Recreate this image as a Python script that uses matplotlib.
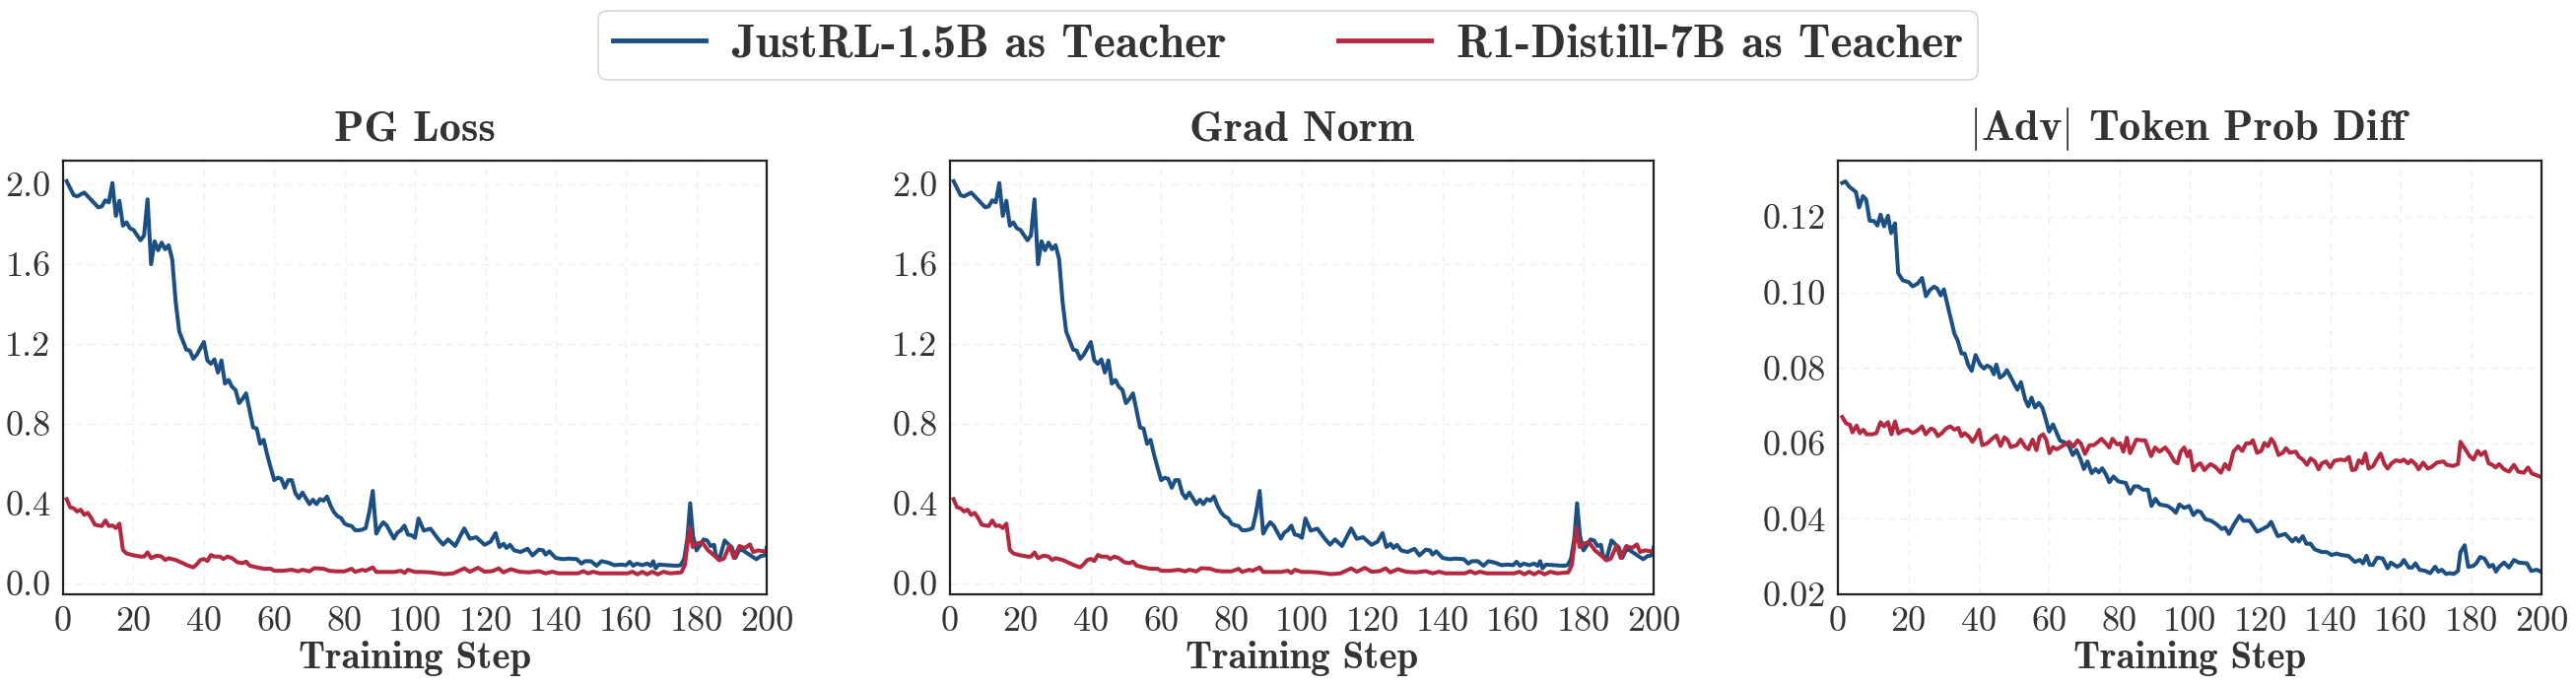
import matplotlib
matplotlib.use("Agg")
import matplotlib.pyplot as plt
from matplotlib.ticker import MultipleLocator

plt.rcParams['font.family'] = ['cmr10']
plt.rcParams['mathtext.fontset'] = 'cm'
plt.rcParams['axes.unicode_minus'] = False
plt.rcParams['axes.formatter.use_mathtext'] = False

# ---------------- data ----------------
series_labels = ["JustRL-1.5B as Teacher", "R1-Distill-7B as Teacher"]
panel_titles = ["PG Loss", "Grad Norm", r"$|$Adv$|$ Token Prob Diff"]
x_label = "Training Step"

pg_blue_steps = [1, 3, 4, 6, 10, 11, 12, 13, 14, 15, 16, 17, 18, 19, 20, 22, 23, 24, 25, 26, 27, 28, 29, 30,
                 31, 32, 33, 35, 36, 37, 38, 40, 41, 42, 43, 44, 45, 46, 47, 48, 49, 50, 51, 52, 53, 54, 55,
                 56, 57, 58, 59, 60, 61, 62, 63, 64, 65, 66, 67, 68, 69, 70, 71, 72, 73, 74, 75, 76, 77, 78,
                 79, 80, 81, 82, 83, 84, 85, 86, 87, 88, 89, 90, 91, 92, 93, 94, 95, 96, 97, 98, 99, 100,
                 101, 102.5, 104.4, 106.5, 108, 109.4, 111.4, 114, 115.6, 117.4, 119.8, 121.5, 122.9, 124,
                 125.2, 126, 127, 128.2, 130, 132, 133.4, 135.2, 136.4, 137.1, 138.2, 140, 142, 143.6, 146,
                 147.3, 148.3, 150, 151.6, 153, 154.8, 156.7, 158.5, 160, 161, 162, 163, 164.6, 166, 167,
                 167.7, 168.4, 169.3, 171.6, 174.4, 175.5, 176.5, 177.4, 178.2, 179, 180, 181, 182, 183,
                 184, 185, 185.5, 186.6, 188, 189.2, 190, 191, 192.2, 193.2, 194.6, 196, 197, 198.3, 199.3, 200]
pg_blue_vals = [2.016, 1.946, 1.94, 1.959, 1.885, 1.89, 1.92, 1.91, 2.007, 1.842, 1.918, 1.793, 1.81, 1.78,
                1.772, 1.72, 1.744, 1.925, 1.60, 1.715, 1.67, 1.708, 1.675, 1.695, 1.625, 1.41, 1.263, 1.172,
                1.167, 1.126, 1.147, 1.21, 1.118, 1.101, 1.123, 1.057, 1.118, 1.002, 1.02, 0.986, 0.97, 0.904,
                0.925, 0.953, 0.867, 0.782, 0.777, 0.70, 0.72, 0.645, 0.58, 0.518, 0.53, 0.525, 0.48, 0.518,
                0.518, 0.453, 0.427, 0.456, 0.427, 0.398, 0.42, 0.398, 0.423, 0.415, 0.436, 0.39, 0.357,
                0.337, 0.328, 0.30, 0.292, 0.288, 0.267, 0.267, 0.27, 0.278, 0.357, 0.464, 0.25, 0.283,
                0.307, 0.29, 0.258, 0.225, 0.255, 0.267, 0.29, 0.245, 0.242, 0.229, 0.326, 0.265, 0.275,
                0.225, 0.195, 0.221, 0.188, 0.276, 0.224, 0.232, 0.194, 0.21, 0.253, 0.183, 0.199, 0.178,
                0.194, 0.166, 0.158, 0.174, 0.141, 0.17, 0.166, 0.145, 0.161, 0.128, 0.122, 0.125, 0.122,
                0.10, 0.112, 0.112, 0.089, 0.112, 0.105, 0.092, 0.095, 0.092, 0.109, 0.089, 0.10, 0.092,
                0.10, 0.089, 0.112, 0.076, 0.095, 0.092, 0.089, 0.092, 0.125, 0.224, 0.402, 0.24, 0.166,
                0.191, 0.221, 0.216, 0.188, 0.194, 0.141, 0.128, 0.216, 0.194, 0.183, 0.128, 0.171, 0.166,
                0.15, 0.133, 0.122, 0.138, 0.141, 0.183]

pg_red_steps = [1, 2, 3, 4, 5, 6, 7, 8, 9, 10, 11, 12, 13, 14, 15, 16, 17, 18, 19.6, 22, 23, 24, 25, 26.6,
                28, 29, 30, 32, 34, 35.5, 37, 38, 39, 40, 41, 42, 43, 44.6, 45.5, 46.7, 48, 49.5, 51, 52, 53,
                55, 57, 59, 60, 62.5, 65, 66.8, 68, 70, 71.4, 74, 75.6, 77.5, 80, 82, 83, 85, 86, 88, 89,
                91.5, 94, 96, 97, 98, 100, 102, 104.4, 108.3, 110.9, 114, 115.6, 117.9, 119.8, 122, 123.8,
                125.1, 127.3, 129.6, 132.4, 135.2, 137.1, 139, 140.8, 143.6, 146.4, 147.8, 149.2, 150.6,
                152.5, 154.8, 157.6, 160.4, 161.8, 163.2, 164.6, 166, 167.4, 169, 170.6, 172.5, 175.7,
                176.7, 178, 178.9, 180, 181.6, 183.3, 185, 186.5, 187.8, 189.4, 190.6, 192.2, 193.8, 195.2,
                196.1, 197.5, 199.3, 200]
pg_red_vals = [0.423, 0.382, 0.377, 0.361, 0.37, 0.344, 0.354, 0.328, 0.295, 0.291, 0.288, 0.316, 0.288,
               0.291, 0.278, 0.30, 0.168, 0.151, 0.143, 0.135, 0.135, 0.156, 0.127, 0.14, 0.135, 0.118,
               0.127, 0.118, 0.102, 0.09, 0.081, 0.097, 0.118, 0.123, 0.113, 0.143, 0.135, 0.135, 0.123,
               0.135, 0.127, 0.107, 0.102, 0.11, 0.09, 0.081, 0.074, 0.074, 0.064, 0.064, 0.069, 0.061,
               0.069, 0.061, 0.077, 0.074, 0.064, 0.061, 0.061, 0.074, 0.058, 0.069, 0.064, 0.081, 0.058,
               0.058, 0.058, 0.064, 0.053, 0.069, 0.058, 0.058, 0.056, 0.047, 0.051, 0.076, 0.059, 0.079,
               0.059, 0.062, 0.076, 0.056, 0.072, 0.059, 0.056, 0.062, 0.051, 0.059, 0.051, 0.051, 0.051,
               0.062, 0.051, 0.059, 0.051, 0.051, 0.051, 0.051, 0.059, 0.046, 0.059, 0.046, 0.059, 0.046,
               0.059, 0.051, 0.056, 0.092, 0.28, 0.183, 0.20, 0.207, 0.166, 0.141, 0.116, 0.125, 0.191,
               0.128, 0.188, 0.178, 0.196, 0.158, 0.166, 0.161, 0.16]

# Grad Norm panel shows the same curves as PG Loss in the reference
gn_blue_steps, gn_blue_vals = pg_blue_steps, pg_blue_vals
gn_red_steps, gn_red_vals = pg_red_steps, pg_red_vals

adv_blue_steps = [1.2, 2.1, 3.2, 5.1, 6, 7.1, 8, 9, 10.2, 11.2, 12.1, 13.1, 14.2, 15.1, 16.2, 17.1, 18.4, 20.1,
                  21.2, 22.6, 23.9, 25, 26.1, 27.3, 28.2, 29.2, 30.1, 31.4, 33.1, 34, 35.1, 36, 37, 38, 39.1,
                  40.4, 41.5, 42.4, 43.4, 44.3, 45, 46, 47.1, 48, 49, 50.1, 51, 52, 53.2, 54.1, 55, 56, 57.1,
                  58.1, 59, 60, 61.1, 62, 63.1, 64.3, 65.7, 66.7, 67.8, 69, 69.9, 70.9, 72.1, 73.2, 74.1, 75.1,
                  76.2, 77.1, 78.3, 79.7, 81.8, 83, 84.2, 85.3, 86.7, 88.1, 89.1, 90.2, 91.4, 93.7, 95.1, 96,
                  97, 98.4, 99.8, 101, 102.1, 103.1, 104.4, 106, 107.5, 109.1, 110, 111.1, 112.4, 114.1, 115.2,
                  117, 119.1, 120.7, 122.2, 123.1, 124, 125, 127.1, 128, 129.1, 130.1, 131, 132.1, 133.1, 134.3,
                  135.5, 137.5, 138.9, 140.3, 141.7, 143.1, 145, 146.9, 148.3, 149.2, 150.2, 151.1, 152, 153.2,
                  154.8, 156.2, 157.1, 158.9, 159.9, 160.8, 162.2, 163.2, 164.1, 165.3, 166.9, 168.3, 169.7,
                  170.6, 171.6, 172.8, 173.9, 175, 176.2, 176.9, 178.1, 179.1, 180.5, 181.4, 182.5, 183.7,
                  185.1, 186.1, 187, 187.9, 189.3, 190.7, 192.1, 193.5, 195.8, 197, 198.6, 199.8]
adv_blue_vals = [0.129, 0.1294, 0.128, 0.1266, 0.1225, 0.1255, 0.1246, 0.119, 0.1189, 0.1177, 0.1206, 0.1175,
                 0.1203, 0.1157, 0.1183, 0.1051, 0.1032, 0.1027, 0.1016, 0.1023, 0.1038, 0.099, 0.1006, 0.1015,
                 0.101, 0.0992, 0.1008, 0.0956, 0.089, 0.0873, 0.0838, 0.0838, 0.0808, 0.0792, 0.0834, 0.0808,
                 0.0798, 0.0806, 0.0801, 0.0783, 0.0809, 0.0774, 0.0781, 0.0794, 0.0777, 0.0757, 0.0742, 0.0762,
                 0.0716, 0.0698, 0.0721, 0.0695, 0.0707, 0.0694, 0.0666, 0.0631, 0.065, 0.0631, 0.0607, 0.0603,
                 0.0592, 0.0569, 0.0582, 0.0556, 0.0532, 0.0552, 0.0521, 0.0532, 0.0523, 0.0534, 0.0517, 0.0497,
                 0.0512, 0.0499, 0.0495, 0.0467, 0.0486, 0.0486, 0.0477, 0.0477, 0.0434, 0.0453, 0.0438, 0.0434,
                 0.0425, 0.0416, 0.0438, 0.0429, 0.0434, 0.041, 0.0421, 0.0418, 0.0399, 0.0395, 0.0386, 0.0373,
                 0.0377, 0.036, 0.0383, 0.0408, 0.0395, 0.0395, 0.0366, 0.0373, 0.0381, 0.0392, 0.0373, 0.0354,
                 0.036, 0.0351, 0.034, 0.0349, 0.034, 0.0354, 0.0334, 0.0334, 0.0319, 0.0312, 0.0312, 0.0304,
                 0.0308, 0.0304, 0.0302, 0.0286, 0.0291, 0.0282, 0.0302, 0.0278, 0.0278, 0.0297, 0.0295, 0.0269,
                 0.0284, 0.0273, 0.0278, 0.0291, 0.0271, 0.0271, 0.0282, 0.0265, 0.0262, 0.0256, 0.0273, 0.026,
                 0.0265, 0.0254, 0.0256, 0.0254, 0.0262, 0.0312, 0.033, 0.0273, 0.0275, 0.0282, 0.0299, 0.0295,
                 0.0273, 0.0278, 0.026, 0.0273, 0.0284, 0.0271, 0.0291, 0.0284, 0.0282, 0.0262, 0.0265, 0.026]

adv_red_steps = [1.2, 2.3, 3.4, 4.1, 5.3, 6.2, 7.2, 8.1, 9.8, 10.9, 12.1, 13.1, 14.2, 15.2, 16.2, 17.2, 18.4,
                 19.9, 21.2, 22.4, 23.9, 24.9, 26.4, 27.3, 28.4, 29.5, 30.7, 31.9, 33.1, 34.2, 35.1, 36, 37.3,
                 38.2, 39.1, 40.1, 41, 42.4, 43.8, 45, 46.2, 47.3, 48.2, 49.1, 50.8, 51.9, 53.2, 54.1, 55.3,
                 56.4, 57.3, 58.3, 59.2, 60.1, 61.1, 62.2, 63.4, 64.6, 65.7, 66.9, 68.1, 69, 70.2, 71.5, 72.7,
                 73.4, 74.9, 76, 77.1, 78, 79.3, 80.2, 81.1, 82.1, 83, 84.8, 86.2, 87.3, 89, 90.1, 91.4, 93,
                 94.2, 95.6, 96.5, 97.4, 98.4, 99.3, 100, 101, 102.1, 103, 104.1, 105.8, 107.2, 108.8, 110,
                 111.1, 112.4, 113.7, 114.9, 116, 117.2, 117.9, 119.1, 120.3, 121.2, 122.2, 123.1, 124, 125.2,
                 126.4, 127.3, 128.4, 130.1, 131, 132.1, 133.3, 134.3, 135.5, 136.6, 137.5, 138.7, 139.9,
                 141.1, 142.7, 144.1, 145.2, 146.1, 147.1, 148, 149, 149.9, 150.8, 152.1, 153, 154.2, 155.3,
                 156.2, 157.3, 158.5, 159.9, 160.8, 162, 162.9, 164.1, 165, 166.3, 167.6, 168.8, 170.2, 172.1,
                 173, 174.8, 176.2, 176.9, 178.1, 179.5, 180.6, 181.8, 182.7, 183.9, 184.9, 186, 186.9, 187.9,
                 189.3, 190.7, 192.1, 193.3, 194.9, 196.1, 197.2, 198.6, 199.8]
adv_red_vals = [0.067, 0.0653, 0.0649, 0.0629, 0.0647, 0.0627, 0.0636, 0.0624, 0.0624, 0.0627, 0.0656, 0.0645,
                0.0656, 0.0624, 0.0658, 0.0626, 0.0634, 0.0636, 0.0627, 0.0633, 0.0645, 0.0624, 0.0639, 0.0636,
                0.0619, 0.0627, 0.0639, 0.0645, 0.0636, 0.0641, 0.0619, 0.0627, 0.0617, 0.0604, 0.0616, 0.0636,
                0.0595, 0.06, 0.0612, 0.0621, 0.0593, 0.0616, 0.0609, 0.059, 0.0595, 0.061, 0.0591, 0.0584,
                0.061, 0.0582, 0.0617, 0.0624, 0.0609, 0.0574, 0.059, 0.0584, 0.0591, 0.0598, 0.0604, 0.0591,
                0.0608, 0.06, 0.0572, 0.0595, 0.0595, 0.06, 0.0612, 0.0601, 0.0589, 0.0612, 0.0597, 0.06,
                0.0578, 0.0615, 0.0574, 0.061, 0.0608, 0.0608, 0.0566, 0.0589, 0.0578, 0.0589, 0.0575, 0.0552,
                0.0547, 0.0578, 0.0589, 0.0566, 0.058, 0.0528, 0.0543, 0.0547, 0.0529, 0.0545, 0.0538, 0.0522,
                0.0545, 0.0531, 0.0578, 0.0592, 0.058, 0.06, 0.06, 0.0608, 0.0575, 0.058, 0.0601, 0.0592,
                0.0612, 0.06, 0.0569, 0.0575, 0.0587, 0.0575, 0.0578, 0.0564, 0.0557, 0.0543, 0.056, 0.0552,
                0.0531, 0.0547, 0.0552, 0.0536, 0.0554, 0.0557, 0.0555, 0.0564, 0.0529, 0.0531, 0.0555, 0.0547,
                0.0573, 0.0533, 0.054, 0.0555, 0.0573, 0.0545, 0.0533, 0.0547, 0.0555, 0.0552, 0.0557, 0.0547,
                0.0555, 0.0545, 0.0531, 0.0549, 0.0533, 0.0538, 0.0549, 0.0552, 0.0543, 0.054, 0.0545, 0.0604,
                0.0587, 0.0566, 0.0557, 0.058, 0.0569, 0.0578, 0.0547, 0.0543, 0.0536, 0.0545, 0.0531, 0.0525,
                0.0543, 0.0525, 0.0522, 0.0536, 0.052, 0.0515, 0.0511]

# ---------------- style ----------------
BLUE = "#1c4f82"
RED = "#b3293f"
TEXT = "#333333"
EDGE = "#222222"

fig = plt.figure(figsize=(26.14, 6.95), dpi=100)
ax_w, ax_h, ax_b = 0.2732, 0.6331, 0.1324
lefts = [0.0245, 0.3688, 0.7135]
axes = [fig.add_axes([l, ax_b, ax_w, ax_h]) for l in lefts]

panels = [
    (pg_blue_steps, pg_blue_vals, pg_red_steps, pg_red_vals, (-0.054, 2.119), 0.4),
    (gn_blue_steps, gn_blue_vals, gn_red_steps, gn_red_vals, (-0.054, 2.119), 0.4),
    (adv_blue_steps, adv_blue_vals, adv_red_steps, adv_red_vals, (0.02, 0.1349), 0.02),
]

handles = None
for ax, title, (bx, by, rx, ry, ylim, ystep) in zip(axes, panel_titles, panels):
    hb, = ax.plot(bx, by, color=BLUE, lw=2.9, label=series_labels[0], solid_joinstyle='round')
    hr, = ax.plot(rx, ry, color=RED, lw=2.9, label=series_labels[1], solid_joinstyle='round')
    handles = [hb, hr]
    ax.set_xlim(0, 200)
    ax.set_ylim(*ylim)
    ax.xaxis.set_major_locator(MultipleLocator(20))
    ax.yaxis.set_major_locator(MultipleLocator(ystep))
    ax.grid(True, linestyle=(0, (5, 4)), color="#ececec", linewidth=1.0, alpha=0.8)
    ax.set_axisbelow(True)
    ax.tick_params(axis='both', length=0, labelsize=26, colors=TEXT, pad=9)
    for lab in ax.get_xticklabels() + ax.get_yticklabels():
        lab.set_fontfamily('cmr10')
    for sp in ax.spines.values():
        sp.set_color(EDGE)
        sp.set_linewidth(1.6)
    ax.set_title(title, fontfamily='cmb10', fontsize=32, color=TEXT, pad=15)
    ax.set_xlabel(x_label, fontfamily='cmb10', fontsize=28, color=TEXT, labelpad=2)

leg = fig.legend(handles, series_labels, loc='center', bbox_to_anchor=(0.5, 0.934), ncol=2,
                 prop={'family': 'cmb10', 'size': 34}, frameon=True, fancybox=True,
                 handlelength=2.0, handletextpad=0.55, columnspacing=2.4, borderpad=0.3)
for t in leg.get_texts():
    t.set_color(TEXT)
for h in leg.get_lines():
    h.set_linewidth(3.5)
leg.get_frame().set_edgecolor("#cccccc")
leg.get_frame().set_linewidth(1.2)

fig.savefig("out.png", dpi=100)
